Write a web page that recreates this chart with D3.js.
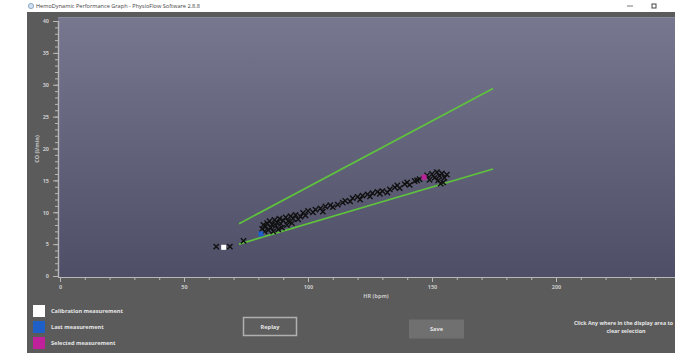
<!DOCTYPE html>
<html>
<head>
<meta charset="utf-8">
<script src="https://cdn.jsdelivr.net/npm/d3@7/dist/d3.min.js"></script>
<style>
  html, body { margin: 0; padding: 0; background: #ffffff; }
  svg { display: block; font-family: "Open Sans", "DejaVu Sans", sans-serif; }
</style>
</head>
<body>
<svg id="chart" width="675" height="353"></svg>
<script>
// ---- data ----
const windowTitle = "HemoDynamic Performance Graph - PhysioFlow Software 2.8.8";
const xTicks = [0, 50, 100, 150, 200];
const yTicks = [0, 5, 10, 15, 20, 25, 30, 35, 40];
const xLabel = "HR (bpm)";
const yLabel = "CO (l/min)";

// heart rate (bpm) / cardiac output (l/min) for each recorded beat group
const measureHR = [63, 68.5, 74,
  81.5, 82, 82.5, 83, 83.5, 84, 84.5, 85, 85.5, 86, 86.5, 87, 87.5, 88, 88.5, 89, 89.5, 90,
  91, 91.5, 92, 93, 93.5, 94, 95, 96, 97, 98, 99, 100,
  102, 103, 105, 106, 107, 109, 110, 112, 114, 115, 117, 118, 120, 121, 122, 124, 125, 126,
  128, 129, 130, 132, 133, 135, 136, 137, 139, 140, 141, 143, 144, 145,
  148, 149, 150, 151, 152, 152.5, 153, 154, 154.5, 155, 156, 153.5];
const measureCO = [4.6, 4.6, 5.5,
  7.4, 8.0, 7.0, 7.8, 8.3, 7.2, 8.6, 7.6, 8.1, 7.0, 8.8, 7.9, 8.4, 7.3, 9.0, 8.2, 7.6, 8.7,
  9.2, 8.0, 8.6, 9.4, 8.3, 9.0, 9.6, 8.9, 9.3, 9.9, 9.5, 10.2,
  10.0, 10.4, 10.6, 10.1, 10.9, 11.1, 10.8, 11.2, 11.5, 11.8, 11.7, 12.2, 12.4, 12.0, 12.6, 12.8, 12.5, 13.0,
  13.2, 12.9, 13.3, 13.1, 13.6, 13.9, 14.2, 13.8, 14.4, 14.7, 14.3, 14.9, 15.0, 15.2,
  15.8, 15.1, 16.0, 15.4, 16.3, 15.0, 15.7, 16.1, 14.7, 15.4, 15.9, 14.5];

// highlighted measurements
const specialNames = ["Calibration measurement", "Last measurement", "Selected measurement"];
const specialColors = ["#ffffff", "#1f5fc8", "#c0209a"];
const specialHR = [66, 81, 146.8];
const specialCO = [4.5, 6.6, 15.5];

// performance envelope lines: [start, end]
const upperHR = [72.2, 174.6];
const upperCO = [8.2, 29.4];
const lowerHR = [72.2, 174.6];
const lowerCO = [5.0, 16.8];

// ---- layout ----
const svg = d3.select("#chart");
const W = 675, H = 353;
const panelLeft = 27, titleH = 12;
const plot = { left: 58, top: 17, right: 676, bottom: 277 };

const x = d3.scaleLinear().domain([0, 250]).range([60, 680]);
const y = d3.scaleLinear().domain([0, 40]).range([276, 21]);

// window chrome
svg.append("rect").attr("width", W).attr("height", H).attr("fill", "#ffffff");
svg.append("rect").attr("x", panelLeft).attr("y", titleH)
  .attr("width", W - panelLeft).attr("height", H - titleH).attr("fill", "#5b5b5b");
svg.append("circle").attr("cx", 31).attr("cy", 6).attr("r", 2.6)
  .attr("fill", "#cfe0f0").attr("stroke", "#7a9bbd").attr("stroke-width", 0.8);
svg.append("text").attr("x", 36).attr("y", 8.3).attr("font-size", 5.6)
  .attr("fill", "#444").text(windowTitle);
svg.append("line").attr("x1", 627).attr("x2", 633).attr("y1", 6).attr("y2", 6)
  .attr("stroke", "#555").attr("stroke-width", 0.8);
svg.append("rect").attr("x", 652).attr("y", 4).attr("width", 4).attr("height", 4)
  .attr("fill", "none").attr("stroke", "#444").attr("stroke-width", 1);

// plot background gradient
const defs = svg.append("defs");
const grad = defs.append("linearGradient").attr("id", "plotBg")
  .attr("x1", 0).attr("y1", 0).attr("x2", 0).attr("y2", 1);
grad.append("stop").attr("offset", "0%").attr("stop-color", "#77788f");
grad.append("stop").attr("offset", "100%").attr("stop-color", "#4e4f67");
svg.append("rect").attr("x", plot.left).attr("y", plot.top)
  .attr("width", plot.right - plot.left).attr("height", plot.bottom - plot.top)
  .attr("fill", "url(#plotBg)");
svg.append("line").attr("x1", plot.left).attr("x2", plot.right)
  .attr("y1", plot.top + 0.5).attr("y2", plot.top + 0.5)
  .attr("stroke", "#8a8b9e").attr("stroke-width", 1);

// ---- axes ----
const axisColor = "#b8b8b8";
const yAxis = svg.append("g").attr("transform", `translate(${plot.left},0)`)
  .call(d3.axisLeft(y).tickValues(yTicks).tickSize(5).tickPadding(4).tickFormat(d3.format("d")));
const yMinor = svg.append("g").attr("transform", `translate(${plot.left},0)`)
  .call(d3.axisLeft(y).tickValues(d3.range(0, 41, 1)).tickSize(3).tickFormat(""));
const xAxis = svg.append("g").attr("transform", `translate(0,${plot.bottom})`)
  .call(d3.axisBottom(x).tickValues(xTicks).tickSize(5).tickPadding(3).tickFormat(d3.format("d")));
const xMinor = svg.append("g").attr("transform", `translate(0,${plot.bottom})`)
  .call(d3.axisBottom(x).tickValues(d3.range(0, 251, 10)).tickSize(3).tickFormat(""));
[yAxis, yMinor, xAxis, xMinor].forEach(g => {
  g.select(".domain").attr("stroke", axisColor).attr("stroke-width", 1.2);
  g.selectAll(".tick line").attr("stroke", axisColor);
  g.selectAll(".tick text").attr("fill", "#c8c8c8").attr("font-size", 5.5)
    .attr("font-family", "'Open Sans', 'DejaVu Sans', sans-serif").attr("font-weight", "bold");
});
xAxis.select(".domain").attr("d", `M${plot.left},0.5H${plot.right}`);
xMinor.select(".domain").attr("d", `M${plot.left},0.5H${plot.right}`);

svg.append("text").attr("transform", `translate(39,149) rotate(-90)`)
  .attr("text-anchor", "middle").attr("font-size", 5.5).attr("font-weight", "bold")
  .attr("fill", "#c8c8c8").text(yLabel);
svg.append("text").attr("x", 376).attr("y", 298)
  .attr("text-anchor", "middle").attr("font-size", 5.5).attr("font-weight", "bold")
  .attr("fill", "#c8c8c8").text(xLabel);

// ---- envelope lines ----
const line = d3.line().x(d => x(d[0])).y(d => y(d[1]));
[[upperHR, upperCO], [lowerHR, lowerCO]].forEach(([hr, co]) => {
  svg.append("path").datum(d3.zip(hr, co)).attr("d", line)
    .attr("fill", "none").attr("stroke", "#5ec43c").attr("stroke-width", 1.6);
});

// ---- measurements ----
const cross = d3.symbol().type(d3.symbolX).size(20);
svg.append("g").selectAll("path").data(d3.zip(measureHR, measureCO)).join("path")
  .attr("transform", d => `translate(${x(d[0])},${y(d[1])})`)
  .attr("d", cross).attr("fill", "none").attr("stroke", "#111").attr("stroke-width", 1.4);

svg.append("g").selectAll("rect").data(d3.range(specialHR.length)).join("rect")
  .attr("x", i => x(specialHR[i]) - 2.5).attr("y", i => y(specialCO[i]) - 2.5)
  .attr("width", 5).attr("height", 5).attr("fill", i => specialColors[i]);

// ---- legend ----
const legend = svg.append("g").selectAll("g").data(specialNames).join("g")
  .attr("transform", (d, i) => `translate(33,${305 + i * 16})`);
legend.append("rect").attr("width", 12).attr("height", 12)
  .attr("fill", (d, i) => specialColors[i]);
legend.append("text").attr("x", 18).attr("y", 8.2).attr("font-size", 5.6)
  .attr("font-weight", "bold").attr("fill", "#e6e6e6").text(d => d);

// ---- buttons and hint ----
svg.append("rect").attr("x", 243.5).attr("y", 317.5).attr("width", 53).attr("height", 18)
  .attr("fill", "#5e5e5e").attr("stroke", "#b0b0b0").attr("stroke-width", 1.5);
svg.append("text").attr("x", 270).attr("y", 328.5).attr("text-anchor", "middle")
  .attr("font-size", 5.6).attr("font-weight", "bold").attr("fill", "#e6e6e6").text("Replay");
svg.append("rect").attr("x", 409).attr("y", 319.5).attr("width", 55).attr("height", 19)
  .attr("fill", "#707070");
svg.append("text").attr("x", 436.5).attr("y", 331).attr("text-anchor", "middle")
  .attr("font-size", 5.6).attr("font-weight", "bold").attr("fill", "#e6e6e6").text("Save");
svg.append("text").attr("x", 574).attr("y", 325).attr("font-size", 5.4)
  .attr("textLength", 99).attr("lengthAdjust", "spacingAndGlyphs")
  .attr("font-weight", "bold").attr("fill", "#e6e6e6").text("Click Any where in the display area to");
svg.append("text").attr("x", 626).attr("y", 332.5).attr("text-anchor", "middle").attr("font-size", 5.4)
  .attr("font-weight", "bold").attr("fill", "#e6e6e6").text("clear selection");
</script>
</body>
</html>
